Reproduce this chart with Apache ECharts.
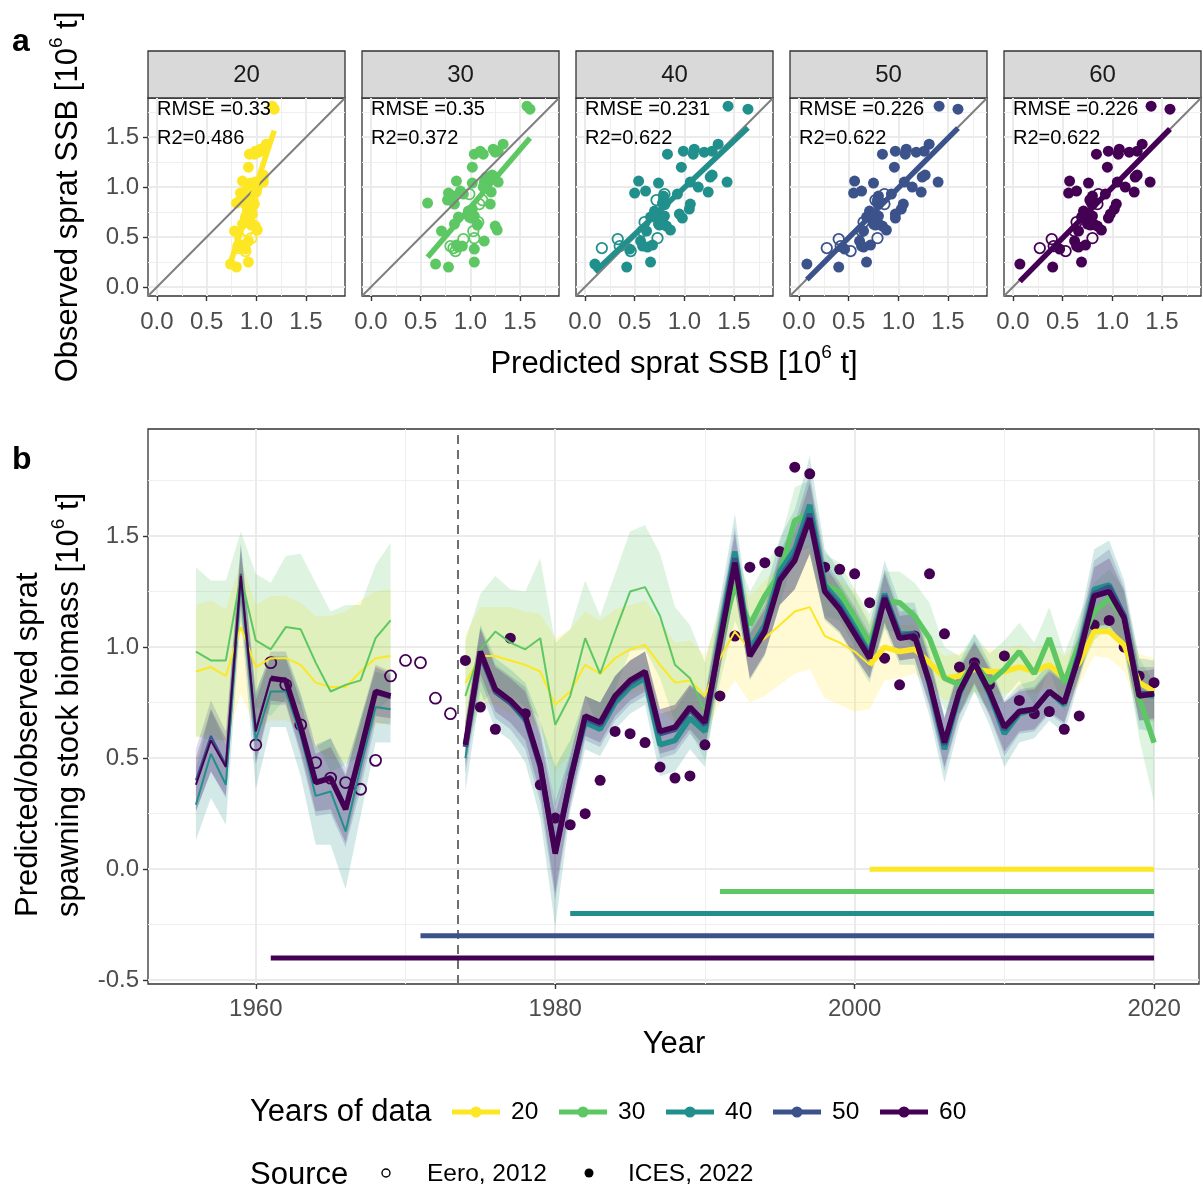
<!DOCTYPE html>
<html>
<head>
<meta charset="utf-8">
<script src="https://cdn.jsdelivr.net/npm/echarts@6/dist/echarts.min.js"></script>
<style>
  html, body { margin: 0; padding: 0; background: #fff; }
  #chart { width: 1203px; height: 1189px; }
</style>
</head>
<body>
<div id="chart"></div>
<script>
// ---- data ----
const years = [];
for (let y = 1956; y <= 2020; y++) years.push(y);

const facetNames = ['20', '30', '40', '50', '60'];
const trainStart = [2001, 1991, 1981, 1971, 1961];
const barLevels = [0, -0.1, -0.2, -0.3, -0.4];
const rmseLabels = ['RMSE =0.33', 'RMSE =0.35', 'RMSE =0.231', 'RMSE =0.226', 'RMSE =0.226'];
const r2Labels = ['R2=0.486', 'R2=0.372', 'R2=0.622', 'R2=0.622', 'R2=0.622'];

// observed SSB
const eeroYears = [1960, 1961, 1962, 1963, 1964, 1965, 1966, 1967, 1968, 1969, 1970, 1971, 1972, 1973];
const obsEero = [0.56, 0.93, 0.83, 0.65, 0.48, 0.41, 0.39, 0.36, 0.49, 0.87, 0.94, 0.93, 0.77, 0.70];
const icesYears = [];
for (let y = 1974; y <= 2020; y++) icesYears.push(y);
const obsIces = [0.94, 0.73, 0.63, 1.04, 0.70, 0.38, 0.23, 0.20, 0.25, 0.40,
  0.62, 0.61, 0.57, 0.46, 0.41, 0.42, 0.56, 0.78, 1.05, 1.36,
  1.38, 1.43, 1.81, 1.78, 1.36, 1.35, 1.33, 1.20, 0.95, 0.83,
  1.05, 1.33, 1.06, 0.91, 0.93, 0.83, 0.96, 0.76, 0.70, 0.71,
  0.63, 0.69, 1.10, 1.12, 1.00, 0.87, 0.84];

// predictions 1956-2020 (no prediction 1970-1973)
const pred20 = [0.89, 0.91, 0.87, 1.09, 0.91, 0.95, 0.95, 0.92, 0.84, 0.82, 0.82, 0.89, 0.95, 0.96,
  null, null, null, null,
  0.84, 0.96, 0.96, 0.94, 0.92, 0.89, 0.74, 0.80, 0.92, 0.88,
  0.95, 0.99, 1.01, 0.92, 0.84, 0.85, 0.78, 0.95, 1.07, 0.99,
  1.04, 1.10, 1.16, 1.18, 1.05, 1.02, 0.98, 0.92, 1.00, 0.98,
  0.99, 0.93, 0.86, 0.87, 0.90, 0.89, 0.89, 0.91, 0.89, 0.92,
  0.86, 0.93, 1.07, 1.07, 1.01, 0.84, 0.80];
const pred30 = [0.98, 0.94, 0.94, 1.32, 1.03, 0.99, 1.09, 1.08, 0.93, 0.80, 0.83, 0.85, 1.04, 1.12,
  null, null, null, null,
  0.78, 0.99, 1.07, 1.02, 0.99, 1.04, 0.65, 0.78, 1.04, 0.88,
  1.07, 1.25, 1.27, 1.14, 0.92, 0.86, 0.71, 1.02, 1.28, 1.10,
  1.23, 1.33, 1.57, 1.60, 1.28, 1.25, 1.13, 1.02, 1.21, 1.20,
  1.14, 1.04, 0.86, 0.83, 0.93, 0.84, 0.90, 0.98, 0.88, 1.04,
  0.84, 1.01, 1.16, 1.22, 1.13, 0.77, 0.57];
const pred40 = [0.29, 0.52, 0.38, 1.30, 0.58, 0.80, 0.80, 0.60, 0.33, 0.35, 0.17, 0.46, 0.73, 0.72,
  null, null, null, null,
  0.50, 0.95, 0.79, 0.74, 0.66, 0.45, 0.10, 0.42, 0.66, 0.63,
  0.75, 0.82, 0.86, 0.56, 0.58, 0.68, 0.62, 1.05, 1.43, 0.99,
  1.10, 1.34, 1.44, 1.64, 1.28, 1.20, 1.09, 0.97, 1.24, 1.06,
  1.06, 0.83, 0.54, 0.79, 0.93, 0.79, 0.61, 0.70, 0.72, 0.80,
  0.74, 0.98, 1.26, 1.28, 1.14, 0.79, 0.78];
const pred50 = [0.40, 0.60, 0.47, 1.33, 0.63, 0.86, 0.86, 0.65, 0.40, 0.42, 0.28, 0.52, 0.79, 0.77,
  null, null, null, null,
  0.55, 0.97, 0.80, 0.75, 0.68, 0.46, 0.08, 0.40, 0.68, 0.65,
  0.77, 0.84, 0.88, 0.61, 0.63, 0.72, 0.65, 1.03, 1.40, 0.97,
  1.08, 1.31, 1.41, 1.60, 1.26, 1.18, 1.07, 0.96, 1.23, 1.05,
  1.06, 0.84, 0.56, 0.80, 0.93, 0.80, 0.63, 0.71, 0.72, 0.80,
  0.75, 0.97, 1.24, 1.27, 1.14, 0.79, 0.79];
const pred60 = [0.38, 0.58, 0.46, 1.32, 0.62, 0.86, 0.85, 0.64, 0.39, 0.41, 0.27, 0.53, 0.80, 0.78,
  null, null, null, null,
  0.56, 0.98, 0.81, 0.76, 0.69, 0.47, 0.07, 0.40, 0.69, 0.66,
  0.78, 0.85, 0.89, 0.62, 0.64, 0.73, 0.66, 1.02, 1.38, 0.96,
  1.07, 1.30, 1.39, 1.58, 1.25, 1.17, 1.06, 0.95, 1.22, 1.04,
  1.05, 0.84, 0.57, 0.80, 0.93, 0.80, 0.64, 0.71, 0.72, 0.80,
  0.75, 0.96, 1.23, 1.25, 1.13, 0.78, 0.79];

// half width of the uncertainty ribbons
const band20 = [0.30, 0.30, 0.30, 0.30, 0.28, 0.28, 0.28, 0.28, 0.30, 0.32, 0.34, 0.32, 0.30, 0.30,
  null, null, null, null,
  0.22, 0.22, 0.22, 0.24, 0.24, 0.26, 0.30, 0.28, 0.24, 0.24,
  0.22, 0.20, 0.20, 0.20, 0.18, 0.18, 0.18, 0.20, 0.22, 0.24,
  0.26, 0.27, 0.28, 0.28, 0.28, 0.28, 0.27, 0.20, 0.15, 0.12,
  0.11, 0.10, 0.10, 0.10, 0.10, 0.10, 0.10, 0.10, 0.10, 0.10,
  0.10, 0.10, 0.11, 0.12, 0.12, 0.13, 0.15];
const band30 = [0.38, 0.36, 0.36, 0.20, 0.30, 0.30, 0.32, 0.34, 0.36, 0.36, 0.36, 0.34, 0.33, 0.35,
  null, null, null, null,
  0.25, 0.25, 0.25, 0.24, 0.26, 0.36, 0.37, 0.30, 0.26, 0.26,
  0.26, 0.27, 0.28, 0.28, 0.26, 0.24, 0.22, 0.18, 0.16, 0.15,
  0.14, 0.14, 0.15, 0.15, 0.14, 0.13, 0.13, 0.13, 0.13, 0.14,
  0.15, 0.16, 0.14, 0.13, 0.13, 0.13, 0.13, 0.13, 0.14, 0.14,
  0.13, 0.13, 0.13, 0.13, 0.13, 0.18, 0.27];
const band40 = [0.16, 0.20, 0.18, 0.16, 0.22, 0.16, 0.16, 0.18, 0.22, 0.24, 0.26, 0.22, 0.16, 0.15,
  null, null, null, null,
  0.15, 0.15, 0.16, 0.16, 0.18, 0.22, 0.36, 0.16, 0.12, 0.12,
  0.12, 0.12, 0.12, 0.14, 0.14, 0.14, 0.16, 0.16, 0.17, 0.14,
  0.14, 0.15, 0.18, 0.22, 0.16, 0.14, 0.14, 0.13, 0.15, 0.14,
  0.14, 0.14, 0.15, 0.14, 0.13, 0.14, 0.15, 0.13, 0.13, 0.13,
  0.13, 0.13, 0.18, 0.20, 0.16, 0.16, 0.16];
const band50 = [0.14, 0.16, 0.15, 0.14, 0.16, 0.12, 0.12, 0.14, 0.16, 0.17, 0.18, 0.16, 0.13, 0.12,
  null, null, null, null,
  0.12, 0.12, 0.12, 0.12, 0.14, 0.16, 0.22, 0.12, 0.10, 0.10,
  0.10, 0.10, 0.10, 0.11, 0.11, 0.11, 0.12, 0.13, 0.14, 0.11,
  0.11, 0.12, 0.15, 0.18, 0.13, 0.11, 0.11, 0.10, 0.12, 0.11,
  0.11, 0.11, 0.12, 0.11, 0.10, 0.11, 0.12, 0.10, 0.10, 0.10,
  0.10, 0.10, 0.15, 0.17, 0.13, 0.12, 0.12];
const band60 = [0.12, 0.14, 0.13, 0.12, 0.14, 0.10, 0.10, 0.11, 0.13, 0.14, 0.15, 0.13, 0.11, 0.10,
  null, null, null, null,
  0.10, 0.10, 0.10, 0.10, 0.11, 0.13, 0.18, 0.10, 0.09, 0.09,
  0.09, 0.09, 0.09, 0.10, 0.10, 0.10, 0.11, 0.12, 0.13, 0.10,
  0.10, 0.11, 0.13, 0.16, 0.12, 0.10, 0.10, 0.09, 0.11, 0.10,
  0.10, 0.10, 0.11, 0.10, 0.09, 0.10, 0.11, 0.09, 0.09, 0.09,
  0.09, 0.09, 0.13, 0.15, 0.12, 0.11, 0.11];

const preds = [pred20, pred30, pred40, pred50, pred60];
const bands = [band20, band30, band40, band50, band60];

// axis ticks
const ssbTicks = [0, 0.5, 1, 1.5];
const ssbMinor = [0.25, 0.75, 1.25, 1.75];
const yearTicks = [1960, 1980, 2000, 2020];
const yearMinor = [1970, 1990, 2010];
const bTicks = [-0.5, 0, 0.5, 1, 1.5];
const bMinor = [-0.25, 0.25, 0.75, 1.25, 1.75];

// ---- style / layout ----
const FONT = '"Liberation Sans", Arial, sans-serif';
const COLORS = ['#FDE725', '#5DC863', '#21908C', '#3B528B', '#440154'];
const PURPLE = '#440154';
const facetLeft = [148, 362, 576, 790, 1004];
const FW = 197, FT = 98, FH = 198;
const SSB_MIN = -0.09, SSB_MAX = 1.892;
const TITLE_SIZE = 31;

function rgba(hex, a) {
  const n = parseInt(hex.slice(1), 16);
  return 'rgba(' + (n >> 16) + ',' + ((n >> 8) & 255) + ',' + (n & 255) + ',' + a + ')';
}

// continuous runs of predictions (line breaks 1970-1973)
const blocks = [];
let runStart = null;
years.forEach((y, i) => {
  if (pred60[i] != null) {
    if (runStart === null) runStart = i;
  } else if (runStart !== null) {
    blocks.push([runStart, i - 1]);
    runStart = null;
  }
});
if (runStart !== null) blocks.push([runStart, years.length - 1]);

function axis(gi, min, max, ticks, showLabels, margin, fmt) {
  return {
    type: 'value', gridIndex: gi, min: min, max: max,
    axisLine: { show: false, onZero: false },
    splitLine: { show: false },
    axisTick: { show: showLabels, customValues: ticks, length: 5, lineStyle: { color: '#333', width: 1.4 } },
    axisLabel: {
      show: showLabels, customValues: ticks, margin: margin,
      color: '#4D4D4D', fontSize: 24, fontFamily: FONT, formatter: fmt
    }
  };
}

// panel grid lines, kept under the data (markLine z defaults above series)
function gridLines(gi, xMaj, xMin, yMaj, yMin, x0, y0) {
  const maj = { color: '#EBEBEB', width: 2, type: 'solid' };
  const mnr = { color: '#EFEFEF', width: 1, type: 'solid' };
  return {
    type: 'line', xAxisIndex: gi, yAxisIndex: gi, data: [[x0, y0]], z: 1,
    symbol: 'none', silent: true, lineStyle: { opacity: 0 },
    markLine: {
      z: 1, silent: true, symbol: ['none', 'none'], label: { show: false }, animation: false,
      emphasis: { disabled: true },
      data: [].concat(
        xMin.map(v => ({ xAxis: v, lineStyle: mnr })),
        yMin.map(v => ({ yAxis: v, lineStyle: mnr })),
        xMaj.map(v => ({ xAxis: v, lineStyle: maj })),
        yMaj.map(v => ({ yAxis: v, lineStyle: maj }))
      )
    }
  };
}

function fitLine(pts) {
  const n = pts.length;
  let sx = 0, sy = 0, sxx = 0, sxy = 0;
  pts.forEach(([x, y]) => { sx += x; sy += y; sxx += x * x; sxy += x * y; });
  const b = (n * sxy - sx * sy) / (n * sxx - sx * sx);
  const a = (sy - b * sx) / n;
  const xs = pts.map(p => p[0]);
  const x0 = Math.min(...xs), x1 = Math.max(...xs);
  return [[x0, a + b * x0], [x1, a + b * x1]];
}

const grids = [], xAxes = [], yAxes = [], series = [], graphic = [];
const fmt1 = v => Number(v).toFixed(1);

// ---- panel a: facets ----
facetLeft.forEach((left, k) => {
  grids.push({ left: left, top: FT, width: FW, height: FH, show: true, borderColor: '#333', borderWidth: 1.3, backgroundColor: 'transparent', outerBoundsMode: 'none' });
  xAxes.push(axis(k, SSB_MIN, SSB_MAX, ssbTicks, true, 14, fmt1));
  yAxes.push(axis(k, SSB_MIN, SSB_MAX, ssbTicks, k === 0, 9, fmt1));

  series.push(gridLines(k, ssbTicks, ssbMinor, ssbTicks, ssbMinor, SSB_MIN, SSB_MIN));
  series.push({
    type: 'line', xAxisIndex: k, yAxisIndex: k, silent: true, symbol: 'none',
    data: [[SSB_MIN, SSB_MIN], [SSB_MAX, SSB_MAX]],
    lineStyle: { color: '#7F7F7F', width: 2 }
  });

  const p = preds[k];
  const ptsIces = icesYears.map((y, j) => [p[years.indexOf(y)], obsIces[j]]).filter(d => d[0] != null);
  const ptsEero = eeroYears.map((y, j) => [p[years.indexOf(y)], obsEero[j]]).filter(d => d[0] != null);

  series.push({
    type: 'scatter', xAxisIndex: k, yAxisIndex: k, silent: true,
    data: ptsEero, symbolSize: 10.5,
    itemStyle: { color: 'rgba(255,255,255,0)', borderColor: COLORS[k], borderWidth: 1.8, opacity: 1 }
  });
  series.push({
    type: 'scatter', xAxisIndex: k, yAxisIndex: k, silent: true,
    data: ptsIces, symbolSize: 11,
    itemStyle: { color: COLORS[k], opacity: 1 }
  });
  series.push({
    type: 'line', xAxisIndex: k, yAxisIndex: k, silent: true, symbol: 'none',
    data: fitLine(ptsIces.concat(ptsEero)),
    lineStyle: { color: COLORS[k], width: 5.5 }
  });

  // strip
  graphic.push({ type: 'rect', shape: { x: left, y: 51, width: FW, height: FT - 51 }, style: { fill: '#D9D9D9', stroke: '#333', lineWidth: 1.3 } });
  graphic.push({ type: 'text', x: left + FW / 2, y: 75, style: { text: facetNames[k], fontSize: 24, fontFamily: FONT, fill: '#1A1A1A', align: 'center', verticalAlign: 'middle' } });
  graphic.push({ type: 'text', x: left + 9, y: 109, z: 100, style: { text: rmseLabels[k], fontSize: 20, fontFamily: FONT, fill: '#000', align: 'left', verticalAlign: 'middle' } });
  graphic.push({ type: 'text', x: left + 9, y: 138.5, z: 100, style: { text: r2Labels[k], fontSize: 20, fontFamily: FONT, fill: '#000', align: 'left', verticalAlign: 'middle' } });
});

// ---- panel b: time series ----
const G = 5;
grids.push({ left: 148, top: 429, width: 1051, height: 555, show: true, borderColor: '#333', borderWidth: 1.3, backgroundColor: 'transparent', outerBoundsMode: 'none' });
xAxes.push(axis(G, 1952.8, 2023.0, yearTicks, true, 13, v => String(v)));
yAxes.push(axis(G, -0.517, 1.982, bTicks, true, 9, fmt1));

series.push(gridLines(G, yearTicks, yearMinor, bTicks, bMinor, 1952.8, -0.517));
series.push({
  type: 'line', xAxisIndex: G, yAxisIndex: G, data: [[1952.8, -0.517]], symbol: 'none', silent: true,
  lineStyle: { opacity: 0 }, z: 1,
  markLine: {
    z: 1, silent: true, symbol: ['none', 'none'], label: { show: false }, animation: false,
    data: [{ xAxis: 1973.5 }],
    lineStyle: { color: '#6E6E6E', width: 2, type: [9, 6] }
  }
});

COLORS.forEach((c, k) => {
  const mean = preds[k], hw = bands[k];
  series.push({
    type: 'custom', xAxisIndex: G, yAxisIndex: G, silent: true,
    data: blocks.map(b => [years[b[0]], mean[b[0]]]),
    renderItem: function (params, api) {
      const b = blocks[params.dataIndex];
      const up = [], lo = [];
      for (let i = b[0]; i <= b[1]; i++) {
        up.push(api.coord([years[i], mean[i] + hw[i]]));
        lo.push(api.coord([years[i], mean[i] - hw[i]]));
      }
      return { type: 'polygon', shape: { points: up.concat(lo.reverse()) }, style: { fill: rgba(c, 0.2), stroke: null } };
    }
  });
});

COLORS.forEach((c, k) => {
  const mean = preds[k];
  series.push({
    type: 'line', xAxisIndex: G, yAxisIndex: G, silent: true, symbol: 'none', connectNulls: false,
    data: years.map((y, i) => [y, mean[i]]),
    lineStyle: { color: c, width: 2 }
  });
  series.push({
    type: 'line', xAxisIndex: G, yAxisIndex: G, silent: true, symbol: 'none', connectNulls: false,
    data: years.map((y, i) => [y, y >= trainStart[k] ? mean[i] : null]),
    lineStyle: { color: c, width: 5.5 }
  });
});

COLORS.forEach((c, k) => {
  series.push({
    type: 'line', xAxisIndex: G, yAxisIndex: G, silent: true, symbol: 'none',
    data: [[trainStart[k], barLevels[k]], [2020, barLevels[k]]],
    lineStyle: { color: c, width: 5 }
  });
});

series.push({
  type: 'scatter', xAxisIndex: G, yAxisIndex: G, silent: true,
  data: eeroYears.map((y, j) => [y, obsEero[j]]), symbolSize: 11,
  itemStyle: { color: 'rgba(255,255,255,0)', borderColor: PURPLE, borderWidth: 1.8, opacity: 1 }
});
series.push({
  type: 'scatter', xAxisIndex: G, yAxisIndex: G, silent: true,
  data: icesYears.map((y, j) => [y, obsIces[j]]), symbolSize: 11,
  itemStyle: { color: PURPLE, opacity: 1 }
});

// ---- titles ----
const titleRich = {
  n: { fontSize: TITLE_SIZE, fontFamily: FONT, fill: '#000', lineHeight: 41 },
  s: { fontSize: 19, fontFamily: FONT, fill: '#000', verticalAlign: 'top', lineHeight: 24 }
};
graphic.push({ type: 'text', x: 12, y: 42, style: { text: 'a', fontSize: 32, fontWeight: 'bold', fontFamily: FONT, fill: '#000', verticalAlign: 'middle' } });
graphic.push({ type: 'text', x: 12, y: 460, style: { text: 'b', fontSize: 32, fontWeight: 'bold', fontFamily: FONT, fill: '#000', verticalAlign: 'middle' } });
graphic.push({ type: 'text', x: 68, y: 197, rotation: Math.PI / 2, style: { text: '{n|Observed sprat SSB [10}{s|6}{n| t]}', rich: titleRich, align: 'center', verticalAlign: 'middle' } });
graphic.push({ type: 'text', x: 674, y: 364, style: { text: '{n|Predicted sprat SSB [10}{s|6}{n| t]}', rich: titleRich, align: 'center', verticalAlign: 'middle' } });
graphic.push({ type: 'text', x: 49, y: 917, rotation: Math.PI / 2, style: { text: '{n|Predicted/observed sprat}\n{n|spawning stock biomass [10}{s|6}{n| t]}', rich: titleRich, align: 'left', verticalAlign: 'middle' } });
graphic.push({ type: 'text', x: 674, y: 1044, style: { text: 'Year', fontSize: TITLE_SIZE, fontFamily: FONT, fill: '#000', align: 'center', verticalAlign: 'middle' } });

// ---- legend ----
graphic.push({ type: 'text', x: 250, y: 1112, style: { text: 'Years of data', fontSize: TITLE_SIZE, fontFamily: FONT, fill: '#000', verticalAlign: 'middle' } });
COLORS.forEach((c, k) => {
  const x0 = 452 + 107 * k;
  graphic.push({ type: 'line', shape: { x1: x0, y1: 1112, x2: x0 + 48, y2: 1112 }, style: { stroke: c, lineWidth: 5 } });
  graphic.push({ type: 'circle', shape: { cx: x0 + 24, cy: 1112, r: 5.5 }, style: { fill: c } });
  graphic.push({ type: 'text', x: x0 + 59, y: 1112, style: { text: facetNames[k], fontSize: 24.5, fontFamily: FONT, fill: '#000', verticalAlign: 'middle' } });
});
graphic.push({ type: 'text', x: 250, y: 1175, style: { text: 'Source', fontSize: TITLE_SIZE, fontFamily: FONT, fill: '#000', verticalAlign: 'middle' } });
graphic.push({ type: 'circle', shape: { cx: 386, cy: 1173, r: 4 }, style: { fill: 'none', stroke: '#000', lineWidth: 1.4 } });
graphic.push({ type: 'text', x: 427, y: 1174, style: { text: 'Eero, 2012', fontSize: 24.5, fontFamily: FONT, fill: '#000', verticalAlign: 'middle' } });
graphic.push({ type: 'circle', shape: { cx: 589, cy: 1173, r: 4.5 }, style: { fill: '#000' } });
graphic.push({ type: 'text', x: 628, y: 1174, style: { text: 'ICES, 2022', fontSize: 24.5, fontFamily: FONT, fill: '#000', verticalAlign: 'middle' } });

const chart = echarts.init(document.getElementById('chart'), null, { renderer: 'canvas' });
chart.setOption({
  animation: false,
  backgroundColor: '#fff',
  grid: grids,
  xAxis: xAxes,
  yAxis: yAxes,
  series: series,
  graphic: graphic
});
</script>
</body>
</html>
